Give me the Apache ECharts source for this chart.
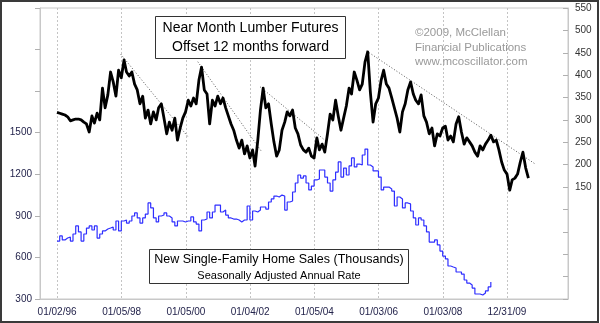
<!DOCTYPE html>
<html>
<head>
<meta charset="utf-8">
<script src="https://cdn.jsdelivr.net/npm/echarts@6/dist/echarts.min.js"></script>
<style>
  html, body { margin: 0; padding: 0; background: #fff; }
  #chart { width: 600px; height: 323px; }
</style>
</head>
<body>
<div id="chart"></div>
<script>
// Near-month lumber futures (USD), monthly, shifted 12 months forward; first month Jan 1996
const lumberStart = [1996, 0];
const lumber = [
  317,315,313,311,307,298,300,302,302,300,295,291,
  273,309,293,315,300,371,327,356,407,385,353,411,
  394,434,407,398,407,380,367,336,353,304,322,291,
  318,300,327,336,304,269,295,277,304,255,282,304,
  318,344,331,349,336,389,418,367,358,291,344,331,
  353,336,349,327,309,291,277,255,237,255,224,242,
  215,233,197,255,322,371,327,336,291,251,219,233,
  277,295,318,309,322,282,269,244,233,228,237,219,
  215,260,233,246,228,269,313,300,344,309,277,304,
  331,371,358,407,389,367,380,429,452,362,295,336,
  349,389,411,380,371,349,327,304,273,318,336,367,
  385,358,344,336,356,309,295,269,282,242,269,264,
  282,286,255,264,251,291,307,273,246,260,251,242,
  228,219,242,233,246,255,266,251,255,233,206,188,
  179,143,166,170,179,206,228,193,170
];

// New single-family home sales, thousands, SAAR; first month Jan 1996
const salesStart = [1996, 0];
const homeSales = [
  718,755,726,740,747,718,769,827,784,718,769,812,
  827,798,827,740,769,791,805,812,820,798,863,791,
  863,870,848,863,899,921,885,848,885,913,993,957,
  885,856,899,906,921,899,885,856,827,863,863,856,
  863,863,892,856,841,791,870,877,928,885,928,978,
  978,928,942,906,885,877,877,870,856,870,870,971,
  870,935,928,942,964,964,949,1000,1022,1043,1036,1050,
  1043,942,1000,1007,1072,1137,1195,1173,1188,1137,1087,1115,
  1159,1166,1231,1231,1180,1137,1079,1159,1216,1289,1180,1245,
  1195,1260,1318,1253,1274,1267,1339,1382,1267,1253,1224,1224,
  1180,1087,1108,1108,1094,1079,971,1036,1022,957,993,986,
  935,885,834,885,870,827,784,711,711,726,690,646,
  610,589,538,531,524,495,495,480,437,415,401,379,
  336,336,329,343,358,387,423
];

// Declining trendlines over the lumber peaks: [start date, price, end date, price]
const trendLines = [
  ['1997-12-25', 447, '2000-01-30', 262],
  ['2000-05-19', 430, '2002-05-08', 231],
  ['2002-04-27', 374, '2004-05-26', 251],
  ['2005-08-19', 454, '2010-11-14', 202]
];

// Date gridlines and their labels
const dateTicks = ['1996-01-02','1998-01-05','2000-01-05','2002-01-04','2004-01-05','2006-01-03','2008-01-03','2009-12-31'];
const dateTickLabels = ['01/02/96','01/05/98','01/05/00','01/04/02','01/05/04','01/03/06','01/03/08','12/31/09'];
const salesTickLabels = [300, 600, 900, 1200, 1500];
const lumberTickLabels = [150, 200, 250, 300, 350, 400, 450, 500, 550];

const xMin = '1995-06-22';
const xMax = '2011-11-25';

function ts(s) { return new Date(s + 'T00:00:00Z').getTime(); }
function monthly(start, values) {
  return values.map((v, i) => [Date.UTC(start[0], start[1] + i, 1), v]);
}

const tickTimes = dateTicks.map(ts);
const labelByTime = {};
tickTimes.forEach((t, i) => { labelByTime[t] = dateTickLabels[i]; });

const font = '"Liberation Sans", Arial, sans-serif';

const trendSeries = trendLines.map(t => ({
  type: 'line',
  yAxisIndex: 1,
  data: [[ts(t[0]), t[1]], [ts(t[2]), t[3]]],
  showSymbol: false,
  silent: true,
  lineStyle: { color: '#555', width: 1, type: [1, 2] },
  z: 1
}));

const chart = echarts.init(document.getElementById('chart'), null, { renderer: 'canvas' });
chart.setOption({
  animation: false,
  backgroundColor: '#fff',
  textStyle: { fontFamily: font },
  grid: { left: 40, top: 8, right: 32, bottom: 24, show: true, borderColor: '#c8c8c8', borderWidth: 1 },
  xAxis: {
    type: 'value',
    min: ts(xMin),
    max: ts(xMax),
    axisLine: { onZero: false, lineStyle: { color: '#c8c8c8' } },
    axisTick: { show: false, customValues: tickTimes },
    axisLabel: {
      customValues: tickTimes,
      formatter: v => labelByTime[v] || '',
      color: '#24244c', fontSize: 10, fontFamily: font, margin: 8, hideOverlap: false
    },
    splitLine: { show: true, lineStyle: { color: '#c4c4c4', type: [2, 2], width: 1 } }
  },
  yAxis: [
    {
      type: 'value', position: 'left', min: 300, max: 2400, interval: 300,
      axisLine: { show: true, onZero: false, lineStyle: { color: '#c8c8c8' } },
      axisTick: { show: true, length: 5, lineStyle: { color: '#b0b0b0' } },
      axisLabel: { customValues: salesTickLabels, formatter: v => String(v), color: '#24244c', fontSize: 10, fontFamily: font, margin: 8 },
      splitLine: { show: false }
    },
    {
      type: 'value', position: 'right', min: -100, max: 550, interval: 50,
      axisLine: { show: true, onZero: false, lineStyle: { color: '#c8c8c8' } },
      axisTick: { show: true, inside: true, length: 5, lineStyle: { color: '#b0b0b0' } },
      axisLabel: { customValues: lumberTickLabels, formatter: v => String(v), color: '#333', fontSize: 10, fontFamily: font, margin: 7 },
      splitLine: { show: false }
    }
  ],
  series: [
    {
      name: 'New Single-Family Home Sales',
      type: 'line', step: 'end', yAxisIndex: 0,
      data: monthly(salesStart, homeSales),
      showSymbol: false,
      lineStyle: { color: '#2f2fff', width: 1.2 },
      z: 3
    },
    {
      name: 'Near Month Lumber Futures',
      type: 'line', yAxisIndex: 1,
      data: monthly(lumberStart, lumber),
      showSymbol: false,
      lineStyle: { color: '#000', width: 2.8, join: 'round' },
      z: 4
    }
  ].concat(trendSeries),
  graphic: [
    { type: 'rect', shape: { x: 1, y: 1, width: 597, height: 321 }, style: { fill: 'none', stroke: '#3a3a3a', lineWidth: 2 }, silent: true, z: 100 },
    { type: 'rect', shape: { x: 155.5, y: 16.5, width: 190, height: 42 }, style: { fill: '#fff', stroke: '#333', lineWidth: 1 }, z: 50 },
    { type: 'text', x: 250.5, y: 28.5, z: 51, style: { text: 'Near Month Lumber Futures', font: '14px ' + font, fill: '#000', textAlign: 'center', textVerticalAlign: 'middle' } },
    { type: 'text', x: 250.5, y: 47, z: 51, style: { text: 'Offset 12 months forward', font: '14px ' + font, fill: '#000', textAlign: 'center', textVerticalAlign: 'middle' } },
    { type: 'rect', shape: { x: 149.5, y: 249.5, width: 259, height: 34 }, style: { fill: '#fff', stroke: '#333', lineWidth: 1 }, z: 50 },
    { type: 'text', x: 279, y: 259.5, z: 51, style: { text: 'New Single-Family Home Sales (Thousands)', font: '12.5px ' + font, fill: '#000', textAlign: 'center', textVerticalAlign: 'middle' } },
    { type: 'text', x: 279, y: 276, z: 51, style: { text: 'Seasonally Adjusted Annual Rate', font: '11px ' + font, fill: '#000', textAlign: 'center', textVerticalAlign: 'middle' } },
    { type: 'text', x: 415, y: 33, z: 51, style: { text: '©2009, McClellan', font: '11.5px ' + font, fill: '#999', textAlign: 'left', textVerticalAlign: 'middle' } },
    { type: 'text', x: 415, y: 47.5, z: 51, style: { text: 'Financial Publications', font: '11.5px ' + font, fill: '#999', textAlign: 'left', textVerticalAlign: 'middle' } },
    { type: 'text', x: 415, y: 62, z: 51, style: { text: 'www.mcoscillator.com', font: '11.5px ' + font, fill: '#999', textAlign: 'left', textVerticalAlign: 'middle' } }
  ]
});
</script>
</body>
</html>
